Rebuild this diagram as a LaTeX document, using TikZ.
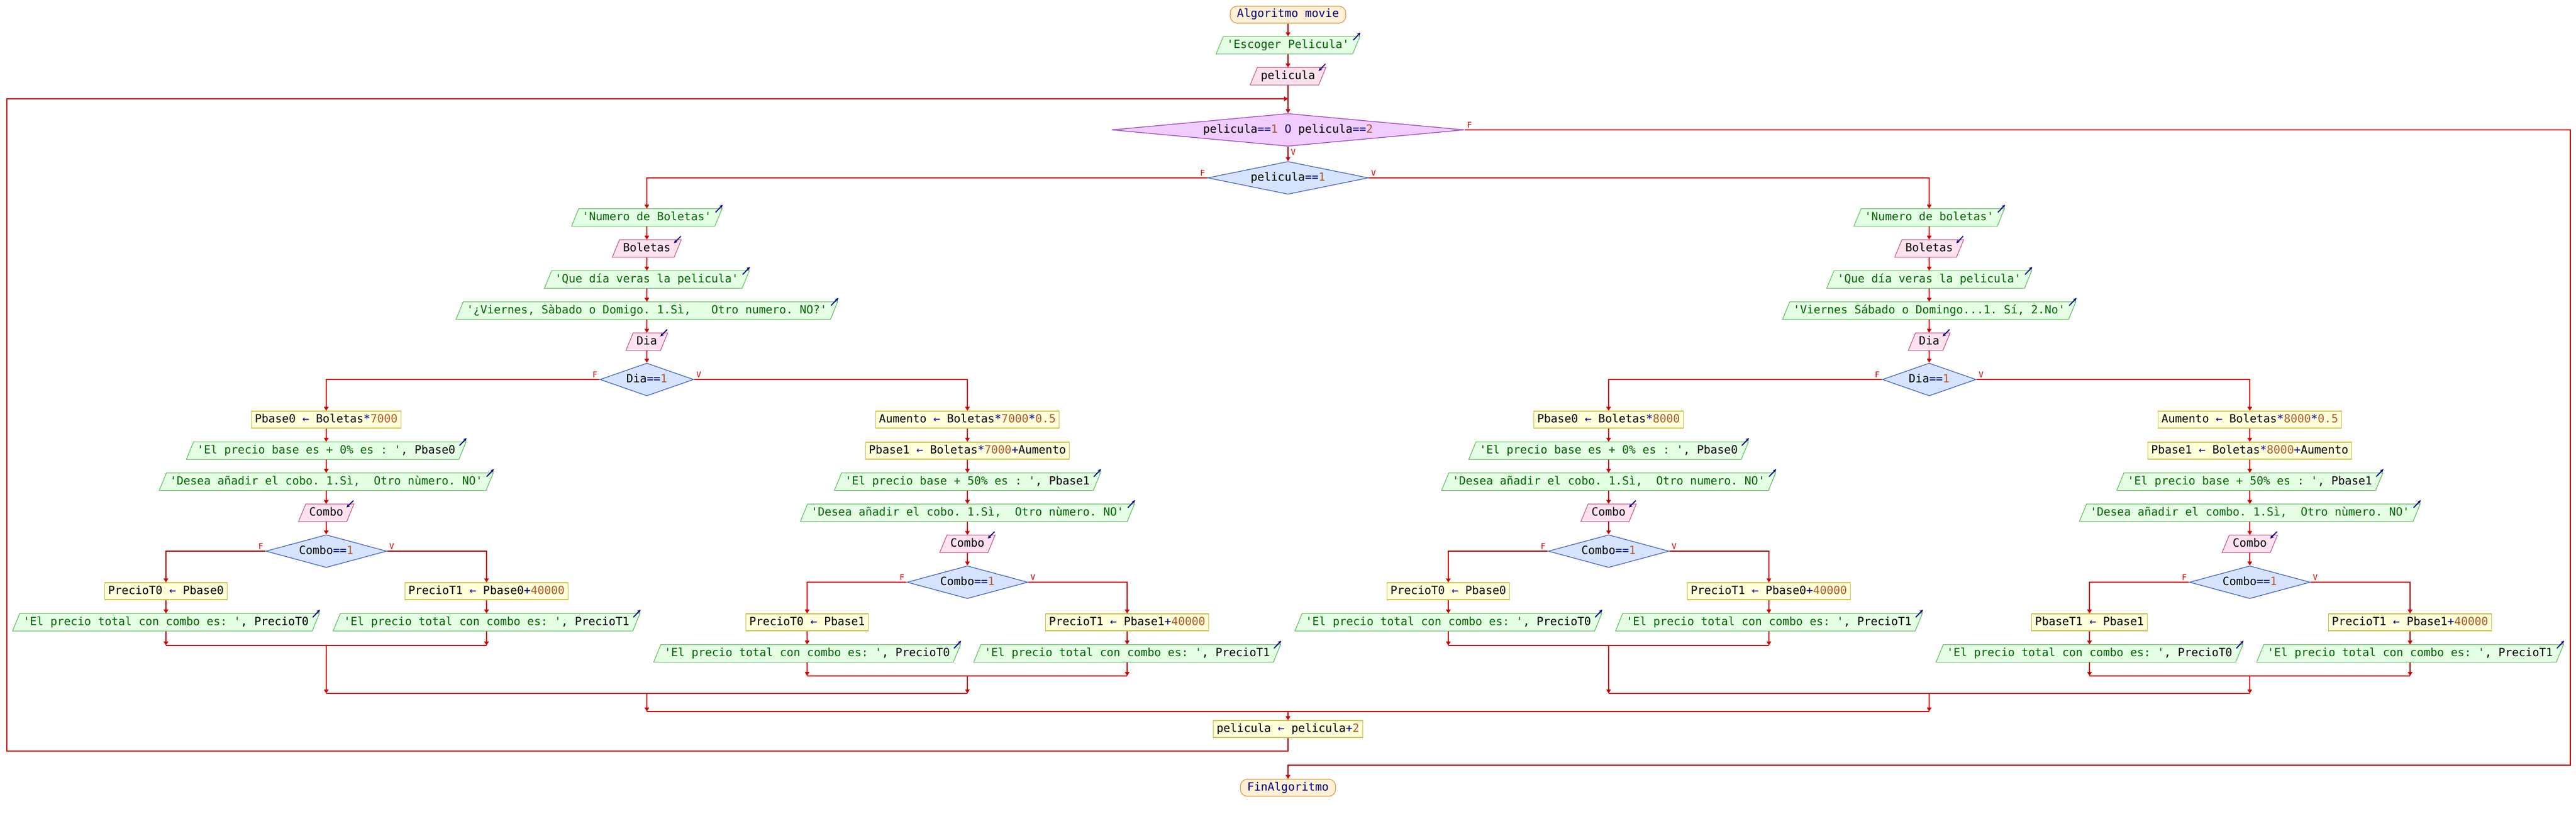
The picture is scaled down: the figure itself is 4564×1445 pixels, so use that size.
\documentclass[tikz,border=0pt]{standalone}
\usepackage{fontspec}
\setmonofont{DejaVu Sans Mono}
\usetikzlibrary{shapes.geometric,arrows.meta,backgrounds,calc}

\definecolor{flowred}{RGB}{204,0,0}
\definecolor{navyc}{RGB}{0,0,128}
\definecolor{numc}{RGB}{176,88,40}
\definecolor{strc}{RGB}{0,100,0}
\definecolor{termfill}{RGB}{255,240,214}
\definecolor{termdraw}{RGB}{212,155,70}
\definecolor{outfill}{RGB}{228,255,228}
\definecolor{outdraw}{RGB}{100,190,100}
\definecolor{infill}{RGB}{255,226,238}
\definecolor{indraw}{RGB}{200,90,140}
\definecolor{procfill}{RGB}{255,255,218}
\definecolor{procdraw}{RGB}{200,192,70}
\definecolor{decfill}{RGB}{214,228,255}
\definecolor{decdraw}{RGB}{60,90,200}
\definecolor{loopfill}{RGB}{240,204,255}
\definecolor{loopdraw}{RGB}{150,60,200}

\newcommand\kop[1]{\textcolor{navyc}{#1}}
\newcommand\knum[1]{\textcolor{numc}{#1}}
\newcommand\kstr[1]{\textcolor{strc}{#1}}

\tikzset{
  line/.style={draw=flowred, line width=2pt},
  flow/.style={line, -{Triangle[length=7pt,width=8pt]}},
  base/.style={font=\ttfamily\frenchspacing\fontsize{20}{24}\selectfont, minimum height=30pt,
    text height=15pt, text depth=5pt, inner ysep=0pt, line width=1.2pt},
  term/.style={base, rectangle, rounded corners=12pt, draw=termdraw, fill=termfill, text=navyc, inner xsep=12pt},
  proc/.style={base, rectangle, draw=procdraw, fill=procfill, inner xsep=6pt},
  io/.style={base, rectangle, inner xsep=12pt},
  dec/.style={base, diamond, draw=decdraw, fill=decfill, aspect=4, inner sep=0pt,
    minimum height=58pt, minimum width=#1},
  loopdec/.style={dec=#1, draw=loopdraw, fill=loopfill, aspect=10},
  lab/.style={font=\ttfamily\fontsize{14}{16}\selectfont, text=flowred, inner sep=0pt},
  outbox/.style={draw=outdraw, fill=outfill, line width=1.2pt},
  inbox/.style={draw=indraw, fill=infill, line width=1.2pt},
  ioarr/.style={draw=navyc, line width=1.8pt, -{Stealth[length=6pt,width=6pt]}}
}

\begin{document}
\begin{tikzpicture}[x=1pt,y=-1pt]
\useasboundingbox (0,0) rectangle (4564,1445);

% ---------- main column ----------
\node[term] (t0) at (2282,26) {Algoritmo movie};
\node[io] (o0) at (2282,80) {\kstr{'Escoger Pelicula'}};
\node[io] (i0) at (2282,135) {pelicula};
\node[loopdec=625pt] (w) at (2282,230) {pelicula\kop{==}\knum{1} \kop{O} pelicula\kop{==}\knum{2}};
\node[dec=285pt] (d0) at (2282,315) {pelicula\kop{==}\knum{1}};

% ---------- left branch ----------
\node[io] (lo1) at (1146,385) {\kstr{'Numero de Boletas'}};
\node[io] (li1) at (1146,440) {Boletas};
\node[io] (lo2) at (1146,495) {\kstr{'Que día veras la pelicula'}};
\node[io] (lo3) at (1146,550) {\kstr{'¿Viernes, Sàbado o Domigo. 1.Sì,~~~Otro numero. NO?'}};
\node[io] (li2) at (1146,605) {Dia};
\node[dec=166pt] (ld) at (1146,672) {Dia\kop{==}\knum{1}};

% left-left
\node[proc] (llp1) at (578,743) {Pbase0 \kop{←} Boletas\kop{*}\knum{7000}};
\node[io] (llo1) at (578,798) {\kstr{'El precio base es + 0\% es : '}, Pbase0};
\node[io] (llo2) at (578,853) {\kstr{'Desea añadir el cobo. 1.Sì,~~Otro nùmero. NO'}};
\node[io] (lli) at (578,908) {Combo};
\node[dec=214pt] (lld) at (578,976) {Combo\kop{==}\knum{1}};
\node[proc] (llfp) at (294,1047) {PrecioT0 \kop{←} Pbase0};
\node[io] (llfo) at (294,1102) {\kstr{'El precio total con combo es: '}, PrecioT0};
\node[proc] (llvp) at (862,1047) {PrecioT1 \kop{←} Pbase0\kop{+}\knum{40000}};
\node[io] (llvo) at (862,1102) {\kstr{'El precio total con combo es: '}, PrecioT1};

% left-V
\node[proc] (lvp1) at (1714,743) {Aumento \kop{←} Boletas\kop{*}\knum{7000}\kop{*}\knum{0.5}};
\node[proc] (lvp2) at (1714,798) {Pbase1 \kop{←} Boletas\kop{*}\knum{7000}\kop{+}Aumento};
\node[io] (lvo1) at (1714,853) {\kstr{'El precio base + 50\% es : '}, Pbase1};
\node[io] (lvo2) at (1714,908) {\kstr{'Desea añadir el cobo. 1.Sì,~~Otro nùmero. NO'}};
\node[io] (lvi) at (1714,963) {Combo};
\node[dec=214pt] (lvd) at (1714,1031) {Combo\kop{==}\knum{1}};
\node[proc] (lvfp) at (1430,1102) {PrecioT0 \kop{←} Pbase1};
\node[io] (lvfo) at (1430,1157) {\kstr{'El precio total con combo es: '}, PrecioT0};
\node[proc] (lvvp) at (1997,1102) {PrecioT1 \kop{←} Pbase1\kop{+}\knum{40000}};
\node[io] (lvvo) at (1997,1157) {\kstr{'El precio total con combo es: '}, PrecioT1};

% ---------- right branch ----------
\node[io] (ro1) at (3418,385) {\kstr{'Numero de boletas'}};
\node[io] (ri1) at (3418,440) {Boletas};
\node[io] (ro2) at (3418,495) {\kstr{'Que día veras la pelicula'}};
\node[io] (ro3) at (3418,550) {\kstr{'Viernes Sábado o Domingo...1. Sí, 2.No'}};
\node[io] (ri2) at (3418,605) {Dia};
\node[dec=166pt] (rd) at (3418,672) {Dia\kop{==}\knum{1}};

% right-left
\node[proc] (rlp1) at (2850,743) {Pbase0 \kop{←} Boletas\kop{*}\knum{8000}};
\node[io] (rlo1) at (2850,798) {\kstr{'El precio base es + 0\% es : '}, Pbase0};
\node[io] (rlo2) at (2850,853) {\kstr{'Desea añadir el cobo. 1.Sì,~~Otro numero. NO'}};
\node[io] (rli) at (2850,908) {Combo};
\node[dec=214pt] (rld) at (2850,976) {Combo\kop{==}\knum{1}};
\node[proc] (rlfp) at (2566,1047) {PrecioT0 \kop{←} Pbase0};
\node[io] (rlfo) at (2566,1102) {\kstr{'El precio total con combo es: '}, PrecioT0};
\node[proc] (rlvp) at (3134,1047) {PrecioT1 \kop{←} Pbase0\kop{+}\knum{40000}};
\node[io] (rlvo) at (3134,1102) {\kstr{'El precio total con combo es: '}, PrecioT1};

% right-V
\node[proc] (rvp1) at (3986,743) {Aumento \kop{←} Boletas\kop{*}\knum{8000}\kop{*}\knum{0.5}};
\node[proc] (rvp2) at (3986,798) {Pbase1 \kop{←} Boletas\kop{*}\knum{8000}\kop{+}Aumento};
\node[io] (rvo1) at (3986,853) {\kstr{'El precio base + 50\% es : '}, Pbase1};
\node[io] (rvo2) at (3986,908) {\kstr{'Desea añadir el combo. 1.Sì,~~Otro nùmero. NO'}};
\node[io] (rvi) at (3986,963) {Combo};
\node[dec=214pt] (rvd) at (3986,1031) {Combo\kop{==}\knum{1}};
\node[proc] (rvfp) at (3702,1102) {PbaseT1 \kop{←} Pbase1};
\node[io] (rvfo) at (3702,1157) {\kstr{'El precio total con combo es: '}, PrecioT0};
\node[proc] (rvvp) at (4270,1102) {PrecioT1 \kop{←} Pbase1\kop{+}\knum{40000}};
\node[io] (rvvo) at (4270,1157) {\kstr{'El precio total con combo es: '}, PrecioT1};

% ---------- end ----------
\node[proc] (upd) at (2282,1291) {pelicula \kop{←} pelicula\kop{+}\knum{2}};
\node[term] (fin) at (2282,1395) {FinAlgoritmo};

% ---------- I/O shapes ----------
\begin{scope}[on background layer]
\foreach \n in {o0,lo1,lo2,lo3,llo1,llo2,llfo,llvo,lvo1,lvo2,lvfo,lvvo,ro1,ro2,ro3,rlo1,rlo2,rlfo,rlvo,rvo1,rvo2,rvfo,rvvo}{
  \draw[outbox] ([xshift=-6.4pt]\n.south west) -- ([xshift=6.4pt]\n.north west)
     -- ([xshift=6.4pt]\n.north east) -- ([xshift=-6.4pt]\n.south east) -- cycle;
}
\foreach \n in {i0,li1,li2,lli,lvi,ri1,ri2,rli,rvi}{
  \draw[inbox] ([xshift=-6.4pt]\n.south west) -- ([xshift=6.4pt]\n.north west)
     -- ([xshift=6.4pt]\n.north east) -- ([xshift=-6.4pt]\n.south east) -- cycle;
}
\end{scope}
\foreach \n in {o0,lo1,lo2,lo3,llo1,llo2,llfo,llvo,lvo1,lvo2,lvfo,lvvo,ro1,ro2,ro3,rlo1,rlo2,rlfo,rlvo,rvo1,rvo2,rvfo,rvvo}{
  \draw[ioarr] ([xshift=-5.3pt,yshift=-6.7pt]\n.north east) -- ([xshift=7.4pt,yshift=6.7pt]\n.north east);
}
\foreach \n in {i0,li1,li2,lli,lvi,ri1,ri2,rli,rvi}{
  \draw[ioarr] ([xshift=5.4pt,yshift=6pt]\n.north east) -- ([xshift=-6.6pt,yshift=-6.3pt]\n.north east);
}

% ---------- coordinates ----------
\coordinate (lj) at (2282,175);
\coordinate (lt) at (12,175);
\coordinate (lb) at (12,1330);
\coordinate (fr) at (4554,230);
\coordinate (fb) at (4554,1355);
\coordinate (fc) at (2282,1355);
\coordinate (llm) at (578,1143);
\coordinate (lvm) at (1714,1197);
\coordinate (rlm) at (2850,1143);
\coordinate (rvm) at (3986,1197);
\coordinate (lm) at (1146,1228);
\coordinate (rm) at (3418,1228);
\coordinate (mm) at (2282,1260);

% ---------- connectors: main ----------
\draw[flow] (t0) -- (o0);
\draw[flow] (o0) -- (i0);
\draw[line] (i0) -- (lj);
\draw[flow] (lj) -- (w);
\draw[flow] (w) -- (d0);
\draw[flow] (d0.west) -| (lo1);
\draw[flow] (d0.east) -| (ro1);

% left chain
\draw[flow] (lo1) -- (li1);
\draw[flow] (li1) -- (lo2);
\draw[flow] (lo2) -- (lo3);
\draw[flow] (lo3) -- (li2);
\draw[flow] (li2) -- (ld);
\draw[flow] (ld.west) -| (llp1);
\draw[flow] (ld.east) -| (lvp1);
\draw[flow] (llp1) -- (llo1);
\draw[flow] (llo1) -- (llo2);
\draw[flow] (llo2) -- (lli);
\draw[flow] (lli) -- (lld);
\draw[flow] (lld.west) -| (llfp);
\draw[flow] (lld.east) -| (llvp);
\draw[flow] (llfp) -- (llfo);
\draw[flow] (llvp) -- (llvo);
\draw[flow] (llfo) -- (llfo |- llm);
\draw[flow] (llvo) -- (llvo |- llm);
\draw[line] (llfo |- llm) -- (llvo |- llm);
\draw[flow] (lvp1) -- (lvp2);
\draw[flow] (lvp2) -- (lvo1);
\draw[flow] (lvo1) -- (lvo2);
\draw[flow] (lvo2) -- (lvi);
\draw[flow] (lvi) -- (lvd);
\draw[flow] (lvd.west) -| (lvfp);
\draw[flow] (lvd.east) -| (lvvp);
\draw[flow] (lvfp) -- (lvfo);
\draw[flow] (lvvp) -- (lvvo);
\draw[flow] (lvfo) -- (lvfo |- lvm);
\draw[flow] (lvvo) -- (lvvo |- lvm);
\draw[line] (lvfo |- lvm) -- (lvvo |- lvm);
\draw[flow] (llm) -- (llm |- lm);
\draw[flow] (lvm) -- (lvm |- lm);
\draw[line] (llm |- lm) -- (lvm |- lm);

% right chain
\draw[flow] (ro1) -- (ri1);
\draw[flow] (ri1) -- (ro2);
\draw[flow] (ro2) -- (ro3);
\draw[flow] (ro3) -- (ri2);
\draw[flow] (ri2) -- (rd);
\draw[flow] (rd.west) -| (rlp1);
\draw[flow] (rd.east) -| (rvp1);
\draw[flow] (rlp1) -- (rlo1);
\draw[flow] (rlo1) -- (rlo2);
\draw[flow] (rlo2) -- (rli);
\draw[flow] (rli) -- (rld);
\draw[flow] (rld.west) -| (rlfp);
\draw[flow] (rld.east) -| (rlvp);
\draw[flow] (rlfp) -- (rlfo);
\draw[flow] (rlvp) -- (rlvo);
\draw[flow] (rlfo) -- (rlfo |- rlm);
\draw[flow] (rlvo) -- (rlvo |- rlm);
\draw[line] (rlfo |- rlm) -- (rlvo |- rlm);
\draw[flow] (rvp1) -- (rvp2);
\draw[flow] (rvp2) -- (rvo1);
\draw[flow] (rvo1) -- (rvo2);
\draw[flow] (rvo2) -- (rvi);
\draw[flow] (rvi) -- (rvd);
\draw[flow] (rvd.west) -| (rvfp);
\draw[flow] (rvd.east) -| (rvvp);
\draw[flow] (rvfp) -- (rvfo);
\draw[flow] (rvvp) -- (rvvo);
\draw[flow] (rvfo) -- (rvfo |- rvm);
\draw[flow] (rvvo) -- (rvvo |- rvm);
\draw[line] (rvfo |- rvm) -- (rvvo |- rvm);
\draw[flow] (rlm) -- (rlm |- rm);
\draw[flow] (rvm) -- (rvm |- rm);
\draw[line] (rlm |- rm) -- (rvm |- rm);

% merges and loop
\draw[flow] (lm) -- (lm |- mm);
\draw[flow] (rm) -- (rm |- mm);
\draw[line] (lm |- mm) -- (rm |- mm);
\draw[flow] (mm) -- (upd);
\draw[flow] (upd) |- (lb) -- (lt) -- (lj);
\draw[flow] (w.east) -- (fr) -- (fb) -- (fc) -- (fin);

% ---------- labels ----------
\node[lab, anchor=south west] (wF) at ([xshift=4pt,yshift=3pt]w.east) {F};
\node[lab, anchor=north west] (wV) at ([xshift=5pt,yshift=-4pt]w.south) {V};
\foreach \d in {d0,ld,rd,lld,lvd,rld,rvd}{
  \node[lab, anchor=south east] (\d F) at ([xshift=-4pt,yshift=3pt]\d.west) {F};
  \node[lab, anchor=south west] (\d V) at ([xshift=4pt,yshift=3pt]\d.east) {V};
}
\end{tikzpicture}
\end{document}
